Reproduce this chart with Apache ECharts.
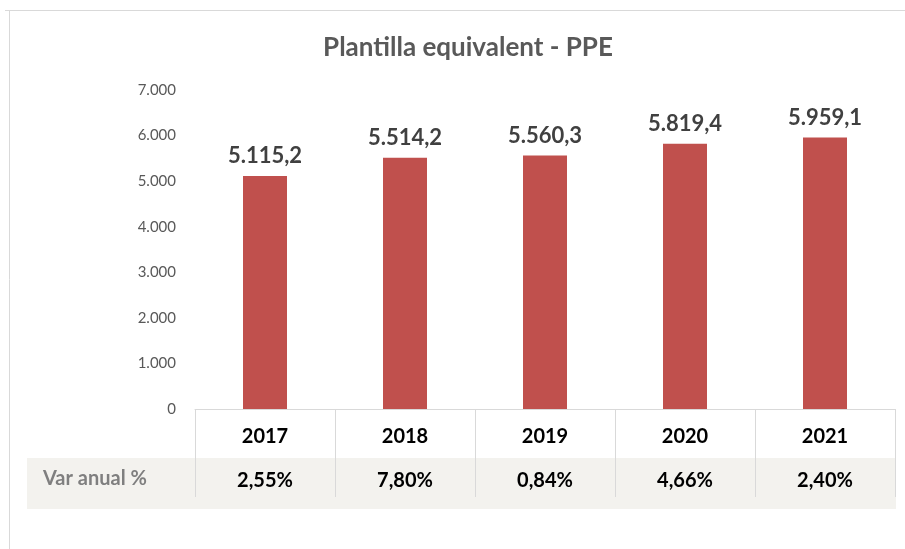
<!DOCTYPE html>
<html>
<head>
<meta charset="utf-8">
<script src="https://cdn.jsdelivr.net/npm/echarts@6/dist/echarts.min.js"></script>
<style>
  html, body { margin: 0; padding: 0; background: #fff; }
  #chart { width: 905px; height: 549px; }
</style>
</head>
<body>
<div id="chart"></div>
<script>
// dades
var years = ['2017', '2018', '2019', '2020', '2021'];
var ppe = [5115.2, 5514.2, 5560.3, 5819.4, 5959.1];
var varAnual = ['2,55%', '7,80%', '0,84%', '4,66%', '2,40%'];
var yTicks = [0, 1000, 2000, 3000, 4000, 5000, 6000, 7000];

var font = 'Lato, "Open Sans", sans-serif';

function fmtThousands(v) {
  return String(Math.round(v)).replace(/\B(?=(\d{3})+(?!\d))/g, '.');
}
function fmtDecimal(v) {
  var parts = v.toFixed(1).split('.');
  return parts[0].replace(/\B(?=(\d{3})+(?!\d))/g, '.') + ',' + parts[1];
}

var chart = echarts.init(document.getElementById('chart'));
chart.setOption({
  animation: false,
  textStyle: { fontFamily: font },
  title: {
    text: 'Plantilla equivalent - PPE',
    left: 463,
    textAlign: 'center',
    top: 30,
    textStyle: { fontFamily: font, fontSize: 26, fontWeight: 'bold', color: '#595959' }
  },
  grid: { left: 195, right: 10, top: 90, bottom: 140 },
  graphic: [
    // marc exterior
    { type: 'line', shape: { x1: 5, y1: 10.5, x2: 905, y2: 10.5 }, style: { stroke: '#d9d9d9', lineWidth: 1 } },
    { type: 'line', shape: { x1: 9.5, y1: 10, x2: 9.5, y2: 549 }, style: { stroke: '#d9d9d9', lineWidth: 1 } },
    // fons fila variacio
    { type: 'rect', z: -1, shape: { x: 27, y: 458, width: 869, height: 51 }, style: { fill: '#f3f2ee' } },
    { type: 'text', left: 43, top: 469, style: { text: 'Var anual %', font: 'bold 20px ' + font, fill: '#7f7f7f' } }
  ],
  xAxis: [
    {
      type: 'category',
      data: years,
      position: 'bottom',
      offset: 0,
      axisLine: { lineStyle: { color: '#d9d9d9' } },
      axisTick: { show: true, length: 88, interval: 0, lineStyle: { color: '#d9d9d9' } },
      axisLabel: { margin: 18, fontSize: 20, fontWeight: 'bold', color: '#000', fontFamily: font }
    },
    {
      type: 'category',
      data: varAnual,
      position: 'bottom',
      offset: 0,
      axisLine: { show: false },
      axisTick: { show: false },
      axisLabel: { margin: 62, fontSize: 20, fontWeight: 'bold', color: '#000', fontFamily: font }
    }
  ],
  yAxis: {
    type: 'value',
    min: yTicks[0],
    max: yTicks[yTicks.length - 1],
    interval: yTicks[1] - yTicks[0],
    axisLine: { show: false },
    axisTick: { show: false },
    splitLine: { show: false },
    axisLabel: {
      margin: 19,
      fontSize: 15,
      color: '#595959',
      fontFamily: font,
      formatter: function (v) { return fmtThousands(v); }
    }
  },
  series: [{
    type: 'bar',
    data: ppe,
    barWidth: 44,
    itemStyle: { color: '#c0504d' },
    label: {
      show: true,
      position: 'top',
      distance: 9,
      fontSize: 22,
      fontWeight: 'bold',
      color: '#404040',
      fontFamily: font,
      formatter: function (p) { return fmtDecimal(p.value); }
    }
  }]
});
</script>
</body>
</html>
